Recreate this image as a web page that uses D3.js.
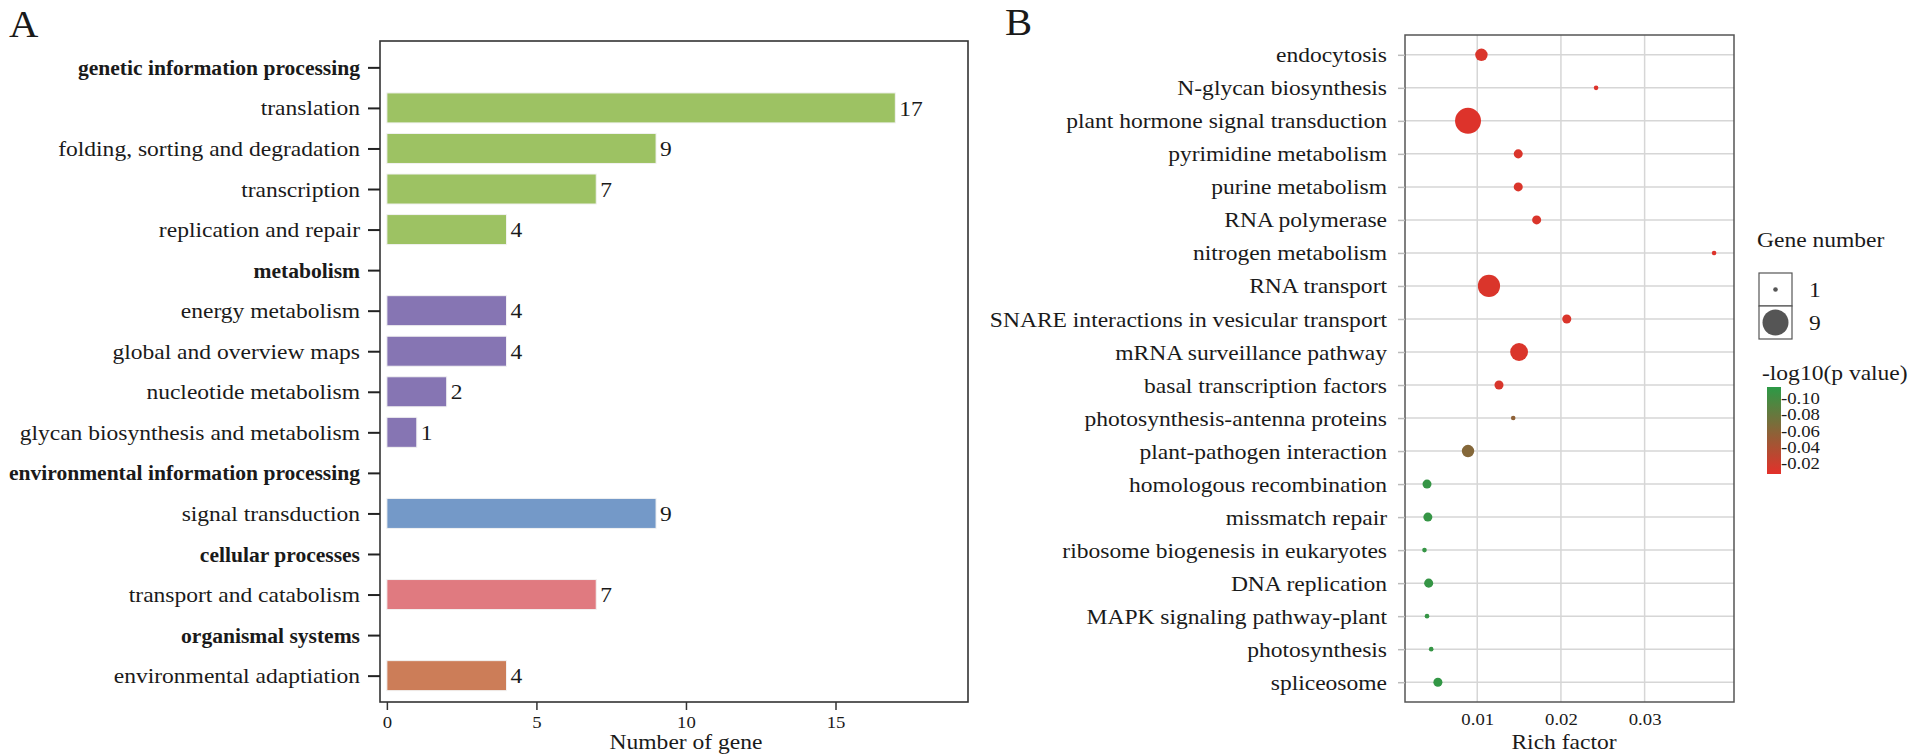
<!DOCTYPE html>
<html>
<head>
<meta charset="utf-8">
<script src="https://cdn.jsdelivr.net/npm/d3@7"></script>
<style>
  body { margin: 0; background: #fff; }
  svg text { font-family: "Liberation Serif", "Times New Roman", serif; fill: #1a1a1a; }
</style>
</head>
<body>
<svg id="chart" width="1908" height="754"></svg>
<script>
// ---- panel A data: KEGG level 1 groups, level 2 categories, gene counts
const groupsA = ["genetic information processing", "metabolism", "environmental information processing",
                 "cellular processes", "organismal systems"];
const categoriesA = [
    ["translation", "folding, sorting and degradation", "transcription", "replication and repair"],
    ["energy metabolism", "global and overview maps", "nucleotide metabolism", "glycan biosynthesis and metabolism"],
    ["signal transduction"],
    ["transport and catabolism"],
    ["environmental adaptiation"]
];
const geneCountsA = [[17, 9, 7, 4], [4, 4, 2, 1], [9], [7], [4]];
const ticksA = [0, 5, 10, 15];

// ---- panel B data: enriched pathways
const pathwaysB = ["endocytosis", "N-glycan biosynthesis", "plant hormone signal transduction",
    "pyrimidine metabolism", "purine metabolism", "RNA polymerase", "nitrogen metabolism", "RNA transport",
    "SNARE interactions in vesicular transport", "mRNA surveillance pathway", "basal transcription factors",
    "photosynthesis-antenna proteins", "plant-pathogen interaction", "homologous recombination",
    "missmatch repair", "ribosome biogenesis in eukaryotes", "DNA replication",
    "MAPK signaling pathway-plant", "photosynthesis", "spliceosome"];
const richFactor = [0.0105, 0.0242, 0.0089, 0.0149, 0.0149, 0.0171, 0.0383, 0.0114, 0.0207, 0.0150,
                    0.0126, 0.0143, 0.0089, 0.0040, 0.0041, 0.0037, 0.0042, 0.0040, 0.0045, 0.0053];
const geneNumber = [3, 1, 9, 2, 2, 2, 1, 7, 2, 5, 2, 1, 3, 2, 2, 1, 2, 1, 1, 2];
const logP = [-0.012, -0.010, -0.010, -0.012, -0.012, -0.012, -0.010, -0.012, -0.012, -0.012,
              -0.013, -0.056, -0.062, -0.108, -0.108, -0.108, -0.108, -0.108, -0.108, -0.110];
const ticksB = [0.01, 0.02, 0.03];
const sizeBreaks = [1, 9];
const colorBreaks = [-0.10, -0.08, -0.06, -0.04, -0.02];

const groupColors = ["#9dc263", "#8675b3", "#7499c8", "#e07a80", "#cc7d58"];
const K = 1.07;     // the figure is a bit wider than plain Times
const KBOLD = 0.98;
const FS = 22;      // main label size

const svg = d3.select("#chart");

// scale text horizontally while keeping its anchor point
function widen(sel, k) {
    k = k || K;
    sel.each(function () {
        const t = d3.select(this);
        const x = +t.attr("x") || 0;
        t.attr("x", x / k).attr("transform", (t.attr("transform") || "") + ` scale(${k},1)`);
    });
}

function label(g, str, x, y, size, anchor, k) {
    return g.append("text")
        .attr("x", x).attr("y", y)
        .attr("font-size", size)
        .attr("text-anchor", anchor || "start")
        .text(str)
        .call(widen, k);
}

// ================= Panel A =================
const rowsA = [];
groupsA.forEach((g, i) => {
    rowsA.push({ name: g, head: true, group: i });
    categoriesA[i].forEach((c, j) => rowsA.push({ name: c, head: false, group: i, value: geneCountsA[i][j] }));
});

const aLeft = 380, aRight = 968, aTop = 41, aBottom = 702;
const xA = d3.scaleLinear().domain([-0.23, 19.43]).range([aLeft, aRight]);
const yA = d3.scalePoint().domain(rowsA.map(d => d.name)).range([aTop, aBottom]).padding(0.65);
const barH = yA.step() * 0.74;

const gA = svg.append("g");

gA.selectAll("rect.bar")
    .data(rowsA.filter(d => !d.head))
    .enter().append("rect")
    .attr("class", "bar")
    .attr("x", xA(0))
    .attr("y", d => yA(d.name) - barH / 2)
    .attr("width", d => xA(d.value) - xA(0))
    .attr("height", barH)
    .attr("fill", d => groupColors[d.group])
    .attr("stroke", "#f2f2f2")
    .attr("stroke-width", 1);

gA.selectAll("text.val")
    .data(rowsA.filter(d => !d.head))
    .enter().append("text")
    .attr("class", "val")
    .attr("x", d => xA(d.value) + 4)
    .attr("y", d => yA(d.name))
    .attr("dy", "0.35em")
    .attr("font-size", FS)
    .text(d => d.value)
    .call(widen);

gA.append("rect")
    .attr("x", aLeft).attr("y", aTop)
    .attr("width", aRight - aLeft).attr("height", aBottom - aTop)
    .attr("fill", "none").attr("stroke", "#333").attr("stroke-width", 1.6);

const axisA = gA.append("g")
    .attr("transform", `translate(${aLeft},0)`)
    .call(d3.axisLeft(yA).tickSize(12).tickPadding(8));
axisA.select(".domain").remove();
axisA.selectAll(".tick line").attr("stroke", "#222").attr("stroke-width", 2);
axisA.selectAll(".tick text")
    .attr("font-size", FS)
    .attr("fill", "#1a1a1a")
    .attr("font-weight", d => rowsA.find(r => r.name === d).head ? "bold" : "normal")
    .each(function (d) {
        d3.select(this).call(widen, rowsA.find(r => r.name === d).head ? KBOLD : K);
    });

const xAxisA = gA.append("g")
    .attr("transform", `translate(0,${aBottom})`)
    .call(d3.axisBottom(xA).tickValues(ticksA).tickSize(8).tickPadding(6));
xAxisA.select(".domain").remove();
xAxisA.selectAll(".tick line").attr("stroke", "#333").attr("stroke-width", 1.5);
xAxisA.selectAll(".tick text").attr("font-size", 17.5).attr("fill", "#333").call(widen);

label(gA, "Number of gene", 686, 749, FS, "middle");
label(svg, "A", 9, 37, 38);

// ================= Panel B =================
const bLeft = 1405, bRight = 1734, bTop = 35, bBottom = 702;
const xB = d3.scaleLinear().domain([0.00137, 0.04068]).range([bLeft, bRight]);
const yB = d3.scalePoint().domain(pathwaysB).range([bTop, bBottom]).padding(0.6);
const size = d3.scaleSqrt().domain([1, 9]).range([2.3, 13]);
const colorY = d3.scaleLinear().domain([-0.1135, -0.0066]).range([387, 474]);
const color = d3.scaleLinear().domain([-0.1135, -0.0066]).range(["#2c9a46", "#e3302a"]);

const gB = svg.append("g");
gB.append("rect")
    .attr("x", bLeft).attr("y", bTop)
    .attr("width", bRight - bLeft).attr("height", bBottom - bTop)
    .attr("fill", "#fff");

gB.selectAll("line.hgrid")
    .data(pathwaysB)
    .enter().append("line")
    .attr("x1", bLeft).attr("x2", bRight)
    .attr("y1", d => yB(d)).attr("y2", d => yB(d))
    .attr("stroke", "#d6d6d6").attr("stroke-width", 1.5);

gB.selectAll("line.vgrid")
    .data(ticksB)
    .enter().append("line")
    .attr("x1", d => xB(d)).attr("x2", d => xB(d))
    .attr("y1", bTop).attr("y2", bBottom)
    .attr("stroke", "#d6d6d6").attr("stroke-width", 1.5);

const pts = pathwaysB.map((p, i) => ({ name: p, rf: richFactor[i], n: geneNumber[i], lp: logP[i] }));
gB.selectAll("circle.pt")
    .data(pts)
    .enter().append("circle")
    .attr("cx", d => xB(d.rf))
    .attr("cy", d => yB(d.name))
    .attr("r", d => size(d.n))
    .attr("fill", d => color(d.lp));

gB.append("rect")
    .attr("x", bLeft).attr("y", bTop)
    .attr("width", bRight - bLeft).attr("height", bBottom - bTop)
    .attr("fill", "none").attr("stroke", "#555").attr("stroke-width", 1.5);

const axisB = gB.append("g")
    .attr("transform", `translate(${bLeft},0)`)
    .call(d3.axisLeft(yB).tickSize(7).tickPadding(11));
axisB.select(".domain").remove();
axisB.selectAll(".tick line").attr("stroke", "#bbb").attr("stroke-width", 1.5);
axisB.selectAll(".tick text").attr("font-size", FS).attr("fill", "#1a1a1a").call(widen);

const xAxisB = gB.append("g")
    .attr("transform", `translate(0,${bBottom})`)
    .call(d3.axisBottom(xB).tickValues(ticksB).tickFormat(d3.format(".2f")).tickSize(0).tickPadding(11));
xAxisB.select(".domain").remove();
xAxisB.selectAll(".tick text").attr("font-size", 17.5).attr("fill", "#333").call(widen);

label(gB, "Rich factor", 1564, 749, FS, "middle");
label(svg, "B", 1005, 35, 38);

// ---- legends
const leg = svg.append("g");
label(leg, "Gene number", 1757, 247, FS);
const keyY = d3.scaleBand().domain(sizeBreaks).range([273, 339]);
leg.selectAll("rect.key")
    .data(sizeBreaks)
    .enter().append("rect")
    .attr("x", 1759).attr("y", d => keyY(d))
    .attr("width", 33).attr("height", keyY.bandwidth())
    .attr("fill", "#fff").attr("stroke", "#555").attr("stroke-width", 1.2);
leg.selectAll("circle.key")
    .data(sizeBreaks)
    .enter().append("circle")
    .attr("cx", 1775.5).attr("cy", d => keyY(d) + keyY.bandwidth() / 2)
    .attr("r", d => size(d)).attr("fill", "#555");
leg.selectAll("text.key")
    .data(sizeBreaks)
    .enter().append("text")
    .attr("x", 1809).attr("y", d => keyY(d) + keyY.bandwidth() / 2)
    .attr("dy", "0.35em").attr("font-size", FS).attr("fill", "#333")
    .text(d => d)
    .call(widen);

label(leg, "-log10(p value)", 1762, 380, FS);

const grad = svg.append("defs").append("linearGradient")
    .attr("id", "pgrad").attr("x1", 0).attr("y1", 0).attr("x2", 0).attr("y2", 1);
grad.selectAll("stop")
    .data(d3.range(0, 1.01, 0.1))
    .enter().append("stop")
    .attr("offset", d => d)
    .attr("stop-color", d => color(colorY.invert(387 + d * 87)));
leg.append("rect")
    .attr("x", 1767).attr("y", colorY.range()[0])
    .attr("width", 14).attr("height", colorY.range()[1] - colorY.range()[0])
    .attr("fill", "url(#pgrad)");

const cAxis = leg.append("g")
    .attr("transform", "translate(1781,0)")
    .call(d3.axisRight(colorY).tickValues(colorBreaks).tickSize(0).tickPadding(0)
        .tickFormat(d => "-" + Math.abs(d).toFixed(2)));
cAxis.select(".domain").remove();
cAxis.selectAll(".tick text").attr("font-size", 17.5).attr("fill", "#333").call(widen);
</script>
</body>
</html>
